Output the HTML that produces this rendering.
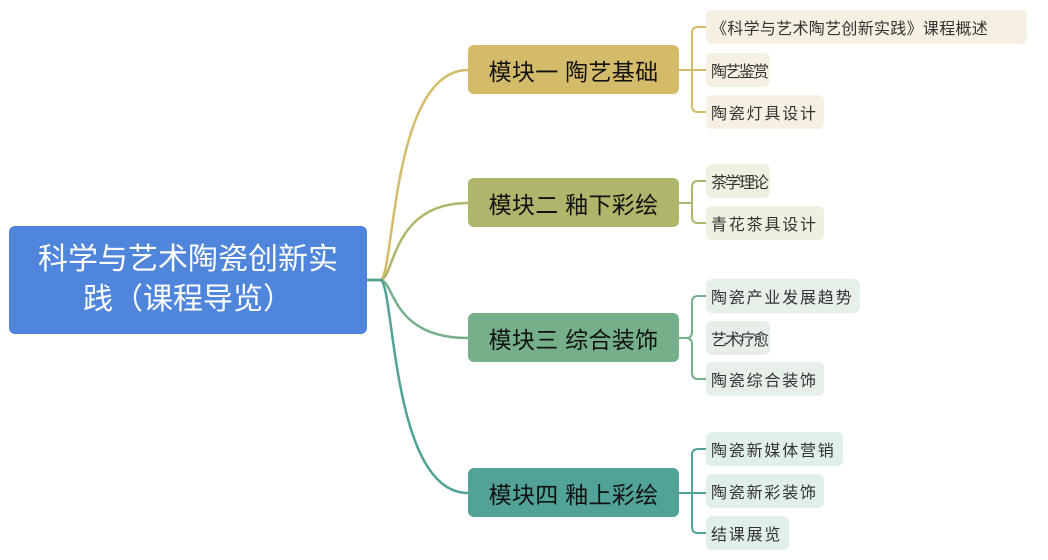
<!DOCTYPE html>
<html><head><meta charset="utf-8"><style>
body{margin:0;width:1048px;height:560px;background:#fff;position:relative;overflow:hidden;font-family:"Liberation Sans","Noto Sans CJK SC",sans-serif}
.b{position:absolute;box-sizing:border-box;display:flex;align-items:center;border-radius:6px;white-space:nowrap}
.root{left:9px;top:226px;width:358px;height:108px;background:#4f86db;color:#fff;font-size:30px;line-height:40px;text-align:center;justify-content:center;border-radius:6px}
.m{left:468px;width:211px;height:49px;font-size:23px;color:#111;justify-content:center;letter-spacing:0.3px}
.l{left:706px;height:34px;font-size:16px;color:#333;padding:0 0 0 5px;letter-spacing:1.8px}
.s{letter-spacing:-2px}
</style></head><body>
<svg width="1048" height="560" style="position:absolute;left:0;top:0" fill="none" stroke-width="2.5">
<path d="M367 280 H380 C395 280 390 70 468 70" stroke="#d4bb6a"/>
<path d="M367 280 H380 C395 280 390 203 468 203" stroke="#afb56a"/>
<path d="M367 280 H380 C395 280 390 338 468 338" stroke="#76b08a"/>
<path d="M367 280 H380 C395 280 390 493 468 493" stroke="#52a397"/>
<g stroke-width="2">
<path d="M679 70 H692 M706 27 H698 Q692 27 692 33 V106 Q692 112 698 112 H706 M692 70 H706" stroke="#d4bb6a"/>
<path d="M679 203 H692 M706 181 H698 Q692 181 692 187 V217 Q692 223 698 223 H706" stroke="#afb56a"/>
<path d="M679 338 H686 Q692 338 692 332 V302 Q692 296 698 296 H706 M686 338 Q692 338 692 344 V373 Q692 379 698 379 H706" stroke="#76b08a"/>
<path d="M679 493 H706 M706 449 H698 Q692 449 692 455 V527 Q692 533 698 533 H706" stroke="#52a397"/>
</g></svg>
<div class="b root">科学与艺术陶瓷创新实<br>践（课程导览）</div>
<div class="b m" style="top:45px;background:#d4bb6a">模块一 陶艺基础</div>
<div class="b m" style="top:178px;background:#afb56a">模块二 釉下彩绘</div>
<div class="b m" style="top:313px;background:#76b08a">模块三 综合装饰</div>
<div class="b m" style="top:468px;background:#52a397">模块四 釉上彩绘</div>
<div class="b l" style="top:10px;width:321px;background:#f5f0e1;letter-spacing:0.3px">《科学与艺术陶艺创新实践》课程概述</div>
<div class="b l s" style="top:53px;width:64px;background:#f5f0e1">陶艺鉴赏</div>
<div class="b l" style="top:95px;width:118px;background:#f5f0e1">陶瓷灯具设计</div>
<div class="b l s" style="top:164px;width:64px;background:#f0f0e1">茶学理论</div>
<div class="b l" style="top:206px;width:118px;background:#f0f0e1">青花茶具设计</div>
<div class="b l" style="top:279px;width:154px;background:#e6efe8">陶瓷产业发展趋势</div>
<div class="b l s" style="top:321px;width:64px;background:#e6efe8">艺术疗愈</div>
<div class="b l" style="top:362px;width:118px;background:#e6efe8">陶瓷综合装饰</div>
<div class="b l" style="top:432px;width:137px;background:#e0eeec">陶瓷新媒体营销</div>
<div class="b l" style="top:474px;width:118px;background:#e0eeec">陶瓷新彩装饰</div>
<div class="b l s" style="top:516px;width:83px;background:#e0eeec;letter-spacing:1.8px">结课展览</div>
</body></html>
